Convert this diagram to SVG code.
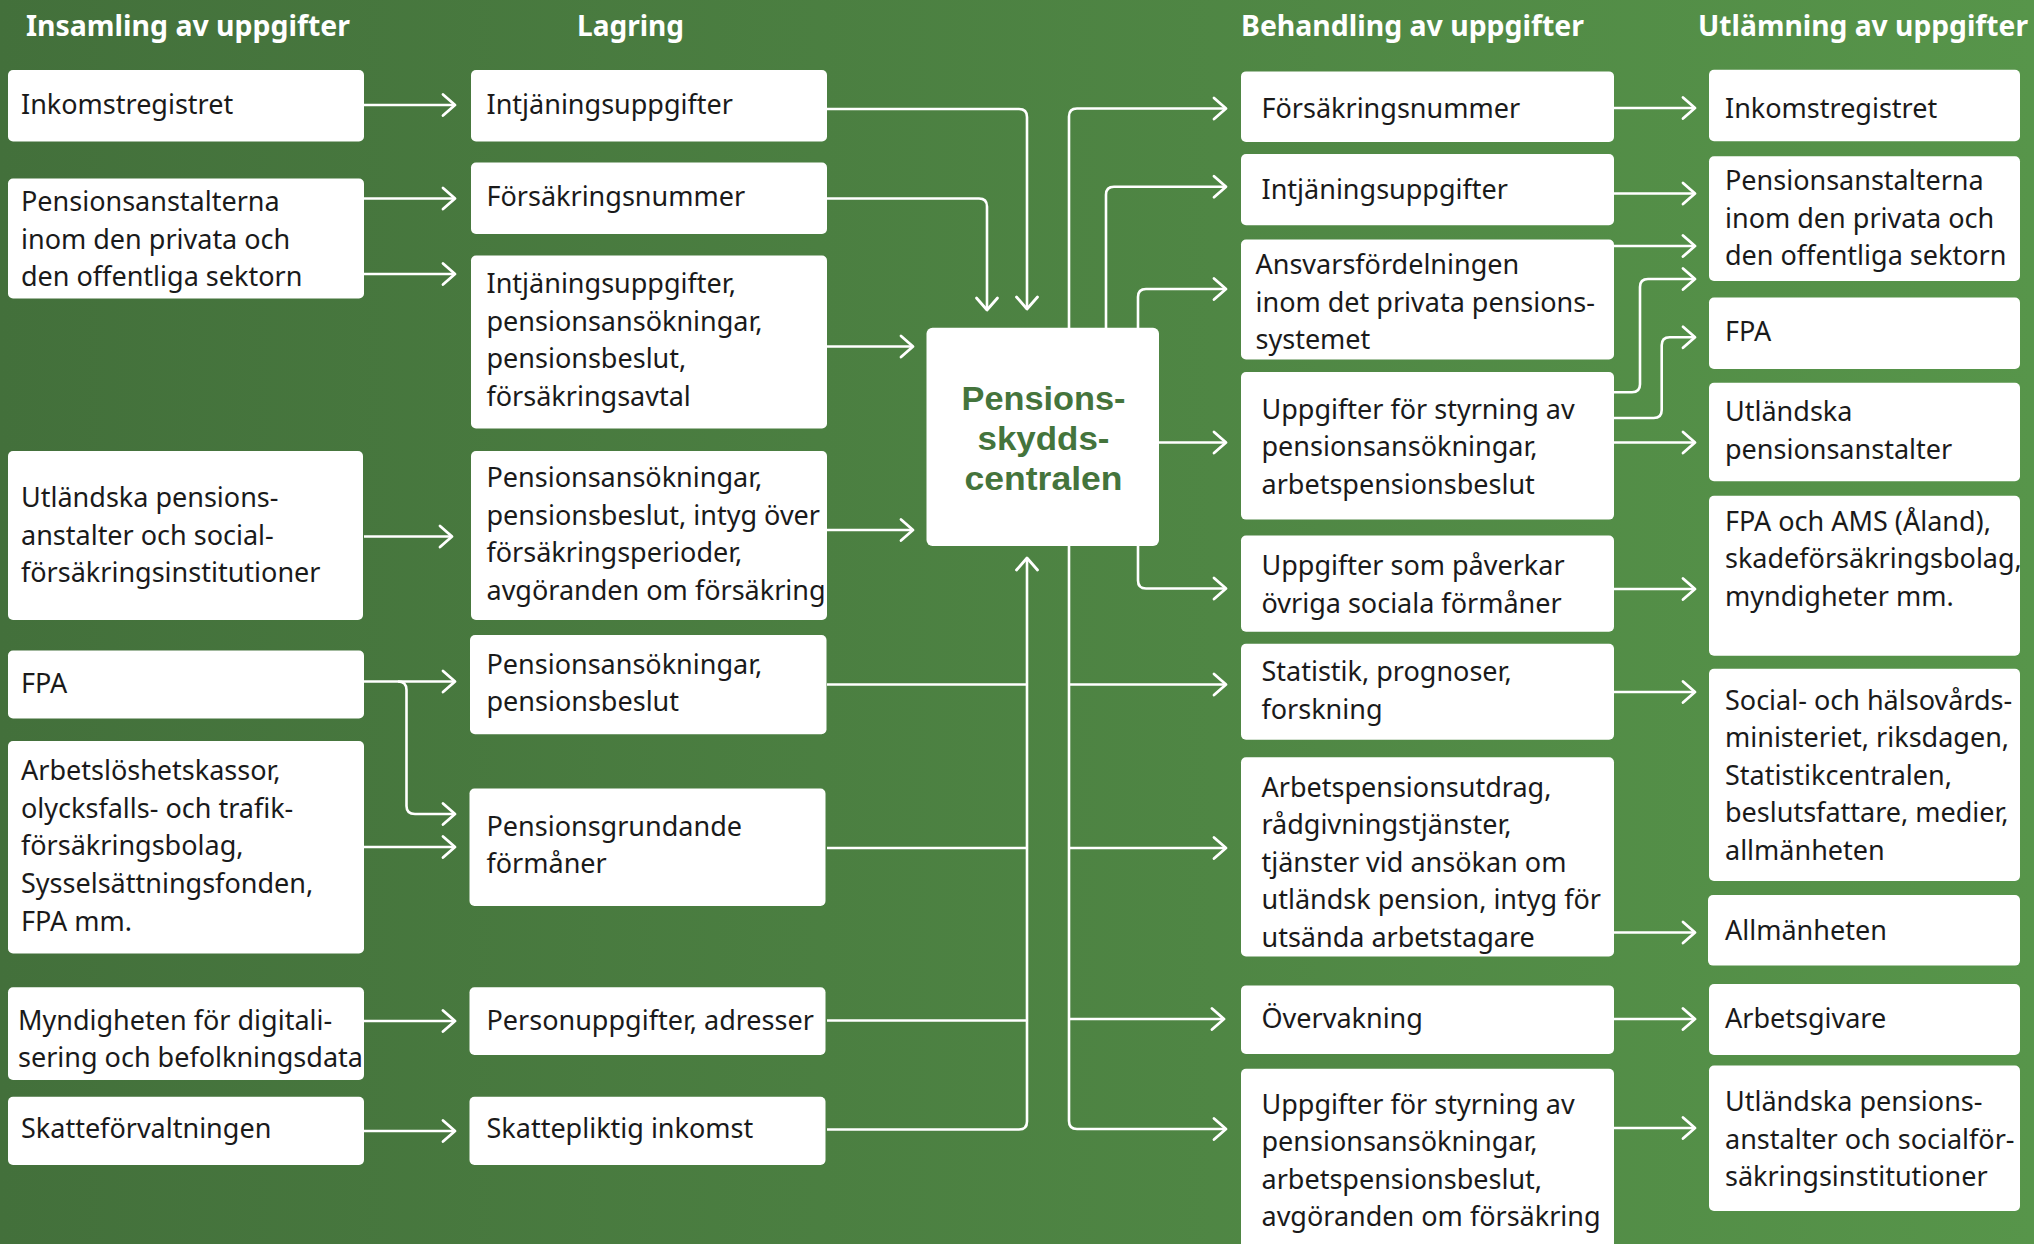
<svg xmlns="http://www.w3.org/2000/svg" width="2034" height="1244" viewBox="0 0 2034 1244">
<defs>
<linearGradient id="bg" x1="0" y1="0" x2="1" y2="0">
<stop offset="0" stop-color="#43703b"/>
<stop offset="1" stop-color="#57954a"/>
</linearGradient>
<marker id="arr" markerUnits="userSpaceOnUse" markerWidth="30" markerHeight="30" refX="0" refY="0" viewBox="-15 -15 30 30" orient="auto" overflow="visible">
<path d="M-12,-10.5 L0,0 L-12,10.5" fill="none" stroke="#ffffff" stroke-width="2.8" stroke-linecap="round" stroke-linejoin="round"/>
</marker>
<style>
.box{fill:#ffffff}
.t{font-family:"Noto Sans","Open Sans","DejaVu Sans",sans-serif;font-size:27px;fill:#1a1a1a}
.h{font-family:"Noto Sans","Open Sans","DejaVu Sans",sans-serif;font-size:28px;font-weight:bold;fill:#ffffff}
.c{font-family:"Liberation Sans",Arial,sans-serif;font-size:34px;font-weight:bold;fill:#44743c;text-anchor:middle}
.ln{fill:none;stroke:#ffffff;stroke-width:2.6}
.a{marker-end:url(#arr)}
</style>
</defs>
<rect x="0" y="0" width="2034" height="1244" fill="url(#bg)"/>

<g id="headings">
<text class="h" x="26" y="36" textLength="324" lengthAdjust="spacingAndGlyphs">Insamling av uppgifter</text>
<text class="h" x="577" y="36" textLength="107" lengthAdjust="spacingAndGlyphs">Lagring</text>
<text class="h" x="1241" y="36" textLength="343" lengthAdjust="spacingAndGlyphs">Behandling av uppgifter</text>
<text class="h" x="1698" y="36" textLength="330" lengthAdjust="spacingAndGlyphs">Utlämning av uppgifter</text>
</g>

<g id="connectors">
<!-- collection to storage -->
<path class="ln a" d="M364,105 H455"/>
<path class="ln a" d="M364,198.5 H455"/>
<path class="ln a" d="M364,274 H455"/>
<path class="ln a" d="M364,536.5 H452"/>
<path class="ln a" d="M364,681.5 H455"/>
<path class="ln a" d="M398,681.5 Q406.5,681.5 406.5,690 V806 Q406.5,814 415,814 H455"/>
<path class="ln a" d="M364,847 H455"/>
<path class="ln a" d="M364,1021 H455"/>
<path class="ln a" d="M364,1131 H455"/>
<!-- storage to centre -->
<path class="ln a" d="M827,109 H1019 Q1027,109 1027,117 V309"/>
<path class="ln a" d="M827,198.5 H979 Q987,198.5 987,206.5 V310"/>
<path class="ln a" d="M827,346.5 H913"/>
<path class="ln a" d="M827,530 H913"/>
<path class="ln" d="M827,684.5 H1027"/>
<path class="ln" d="M827,848 H1027"/>
<path class="ln" d="M827,1020.5 H1027"/>
<path class="ln a" d="M827,1129.5 H1019 Q1027,1129.5 1027,1121.5 V558"/>
<!-- centre to processing -->
<path class="ln a" d="M1069,330 V116.5 Q1069,108.5 1077,108.5 H1226"/>
<path class="ln a" d="M1069,544 V1121 Q1069,1129 1077,1129 H1226"/>
<path class="ln a" d="M1069,684.5 H1226"/>
<path class="ln a" d="M1069,848 H1226"/>
<path class="ln a" d="M1069,1019 H1224"/>
<path class="ln a" d="M1106,330 V194.7 Q1106,186.7 1114,186.7 H1226"/>
<path class="ln a" d="M1138,330 V297 Q1138,289 1146,289 H1226"/>
<path class="ln a" d="M1158,442.5 H1226"/>
<path class="ln a" d="M1138,544 V580.5 Q1138,588.5 1146,588.5 H1226"/>
<!-- processing to delivery -->
<path class="ln a" d="M1614,108 H1695"/>
<path class="ln a" d="M1614,193.5 H1695"/>
<path class="ln a" d="M1614,246 H1695"/>
<path class="ln a" d="M1614,392.3 H1632 Q1640,392.3 1640,384.3 V287 Q1640,279 1648,279 H1695"/>
<path class="ln a" d="M1614,418 H1653.7 Q1661.7,418 1661.7,410 V345.3 Q1661.7,337.3 1669.7,337.3 H1695"/>
<path class="ln a" d="M1614,442.5 H1695"/>
<path class="ln a" d="M1614,589 H1695"/>
<path class="ln a" d="M1614,692 H1695"/>
<path class="ln a" d="M1614,932.5 H1695"/>
<path class="ln a" d="M1614,1019 H1695"/>
<path class="ln a" d="M1614,1128 H1695"/>
</g>

<!-- Column 1 -->
<g id="c1-inkomstregistret"><rect class="box" x="8" y="70" width="356" height="71.5" rx="5"/>
<text class="t" x="21" y="114">Inkomstregistret</text></g>
<g id="c1-pensionsanstalterna"><rect class="box" x="8" y="178.5" width="356" height="120" rx="5"/>
<text class="t" x="21" y="211">Pensionsanstalterna</text>
<text class="t" x="21" y="248.5">inom den privata och</text>
<text class="t" x="21" y="286">den offentliga sektorn</text></g>
<g id="c1-utlandska"><rect class="box" x="8" y="451" width="355" height="169" rx="5"/>
<text class="t" x="21" y="507">Utländska pensions-</text>
<text class="t" x="21" y="544.5">anstalter och social-</text>
<text class="t" x="21" y="582">försäkringsinstitutioner</text></g>
<g id="c1-fpa"><rect class="box" x="8" y="650.5" width="356" height="68" rx="5"/>
<text class="t" x="21" y="692.5">FPA</text></g>
<g id="c1-arbetsloshetskassor"><rect class="box" x="8" y="741" width="356" height="212.5" rx="5"/>
<text class="t" x="21" y="780">Arbetslöshetskassor,</text>
<text class="t" x="21" y="817.7">olycksfalls- och trafik-</text>
<text class="t" x="21" y="855.4">försäkringsbolag,</text>
<text class="t" x="21" y="893">Sysselsättningsfonden,</text>
<text class="t" x="21" y="930.7">FPA mm.</text></g>
<g id="c1-myndigheten"><rect class="box" x="8" y="987.3" width="356" height="92.7" rx="5"/>
<text class="t" x="18" y="1029.5">Myndigheten för digitali-</text>
<text class="t" x="18" y="1066.5">sering och befolkningsdata</text></g>
<g id="c1-skatteforvaltningen"><rect class="box" x="8" y="1096.8" width="356" height="68.2" rx="5"/>
<text class="t" x="21" y="1138">Skatteförvaltningen</text></g>

<!-- Column 2 -->
<g id="c2-intjaning"><rect class="box" x="471" y="70" width="356" height="71.5" rx="5"/>
<text class="t" x="486.5" y="113.5">Intjäningsuppgifter</text></g>
<g id="c2-forsakringsnummer"><rect class="box" x="471" y="162.6" width="356" height="71.4" rx="5"/>
<text class="t" x="486.5" y="206">Försäkringsnummer</text></g>
<g id="c2-intjaning-ansokningar"><rect class="box" x="471" y="255.5" width="356" height="173" rx="5"/>
<text class="t" x="486.5" y="293">Intjäningsuppgifter,</text>
<text class="t" x="486.5" y="330.5">pensionsansökningar,</text>
<text class="t" x="486.5" y="368">pensionsbeslut,</text>
<text class="t" x="486.5" y="405.5">försäkringsavtal</text></g>
<g id="c2-ansokningar-intyg"><rect class="box" x="471" y="451" width="356" height="169" rx="5"/>
<text class="t" x="486.5" y="487">Pensionsansökningar,</text>
<text class="t" x="486.5" y="524.7">pensionsbeslut, intyg över</text>
<text class="t" x="486.5" y="562.4">försäkringsperioder,</text>
<text class="t" x="486.5" y="600">avgöranden om försäkring</text></g>
<g id="c2-ansokningar-beslut"><rect class="box" x="470" y="635" width="356.5" height="99.3" rx="5"/>
<text class="t" x="486.5" y="673.5">Pensionsansökningar,</text>
<text class="t" x="486.5" y="711">pensionsbeslut</text></g>
<g id="c2-pensionsgrundande"><rect class="box" x="469.5" y="788.6" width="356" height="117.4" rx="5"/>
<text class="t" x="486.5" y="835.5">Pensionsgrundande</text>
<text class="t" x="486.5" y="873">förmåner</text></g>
<g id="c2-personuppgifter"><rect class="box" x="469.5" y="987.3" width="356" height="67.7" rx="5"/>
<text class="t" x="486.5" y="1029.5">Personuppgifter, adresser</text></g>
<g id="c2-skattepliktig"><rect class="box" x="469.5" y="1096.8" width="356" height="68.2" rx="5"/>
<text class="t" x="486.5" y="1138">Skattepliktig inkomst</text></g>

<!-- Centre -->
<g id="pensionsskyddscentralen"><rect class="box" x="926.5" y="327.7" width="232.5" height="218.3" rx="6"/>
<text class="c" x="1043.5" y="410" textLength="164" lengthAdjust="spacingAndGlyphs">Pensions-</text>
<text class="c" x="1043.5" y="450" textLength="132" lengthAdjust="spacingAndGlyphs">skydds-</text>
<text class="c" x="1043.5" y="490" textLength="158" lengthAdjust="spacingAndGlyphs">centralen</text></g>

<!-- Column 3 -->
<g id="c3-forsakringsnummer"><rect class="box" x="1241" y="71.4" width="373" height="70.6" rx="5"/>
<text class="t" x="1261.5" y="118">Försäkringsnummer</text></g>
<g id="c3-intjaning"><rect class="box" x="1241" y="154" width="373" height="71.3" rx="5"/>
<text class="t" x="1261.5" y="198.5">Intjäningsuppgifter</text></g>
<g id="c3-ansvarsfordelningen"><rect class="box" x="1241" y="239.6" width="373" height="119.8" rx="5"/>
<text class="t" x="1255.5" y="274">Ansvarsfördelningen</text>
<text class="t" x="1255.5" y="311.5">inom det privata pensions-</text>
<text class="t" x="1255.5" y="349">systemet</text></g>
<g id="c3-styrning"><rect class="box" x="1241" y="372" width="373" height="147.6" rx="5"/>
<text class="t" x="1261.5" y="418.5">Uppgifter för styrning av</text>
<text class="t" x="1261.5" y="456">pensionsansökningar,</text>
<text class="t" x="1261.5" y="493.5">arbetspensionsbeslut</text></g>
<g id="c3-sociala"><rect class="box" x="1241" y="535.5" width="373" height="96.2" rx="5"/>
<text class="t" x="1261.5" y="575">Uppgifter som påverkar</text>
<text class="t" x="1261.5" y="612.7">övriga sociala förmåner</text></g>
<g id="c3-statistik"><rect class="box" x="1241" y="643.8" width="373" height="96" rx="5"/>
<text class="t" x="1261.5" y="681">Statistik, prognoser,</text>
<text class="t" x="1261.5" y="718.5">forskning</text></g>
<g id="c3-arbetspensionsutdrag"><rect class="box" x="1241" y="757.3" width="373" height="199.1" rx="5"/>
<text class="t" x="1261.5" y="796.5">Arbetspensionsutdrag,</text>
<text class="t" x="1261.5" y="834">rådgivningstjänster,</text>
<text class="t" x="1261.5" y="871.5">tjänster vid ansökan om</text>
<text class="t" x="1261.5" y="909">utländsk pension, intyg för</text>
<text class="t" x="1261.5" y="946.5">utsända arbetstagare</text></g>
<g id="c3-overvakning"><rect class="box" x="1241" y="985.4" width="373" height="68.6" rx="5"/>
<text class="t" x="1261.5" y="1027.5">Övervakning</text></g>
<g id="c3-styrning-forsakring"><rect class="box" x="1241" y="1068.7" width="373" height="190" rx="5"/>
<text class="t" x="1261.5" y="1113.5">Uppgifter för styrning av</text>
<text class="t" x="1261.5" y="1151">pensionsansökningar,</text>
<text class="t" x="1261.5" y="1188.5">arbetspensionsbeslut,</text>
<text class="t" x="1261.5" y="1226">avgöranden om försäkring</text></g>

<!-- Column 4 -->
<g id="c4-inkomstregistret"><rect class="box" x="1709" y="69.8" width="311" height="71.4" rx="5"/>
<text class="t" x="1725" y="118">Inkomstregistret</text></g>
<g id="c4-pensionsanstalterna"><rect class="box" x="1709" y="156.3" width="311" height="124.6" rx="5"/>
<text class="t" x="1725" y="190">Pensionsanstalterna</text>
<text class="t" x="1725" y="227.5">inom den privata och</text>
<text class="t" x="1725" y="265">den offentliga sektorn</text></g>
<g id="c4-fpa"><rect class="box" x="1709" y="297.5" width="311" height="71.5" rx="5"/>
<text class="t" x="1725" y="341">FPA</text></g>
<g id="c4-utlandska"><rect class="box" x="1709" y="382.8" width="311" height="98.4" rx="5"/>
<text class="t" x="1725" y="421">Utländska</text>
<text class="t" x="1725" y="458.5">pensionsanstalter</text></g>
<g id="c4-fpa-ams"><rect class="box" x="1709" y="495.8" width="311" height="159.9" rx="5"/>
<text class="t" x="1725" y="530.5">FPA och AMS (Åland),</text>
<text class="t" x="1725" y="568">skadeförsäkringsbolag,</text>
<text class="t" x="1725" y="605.5">myndigheter mm.</text></g>
<g id="c4-social"><rect class="box" x="1709" y="668.8" width="311" height="212.2" rx="5"/>
<text class="t" x="1725" y="709.5">Social- och hälsovårds-</text>
<text class="t" x="1725" y="747">ministeriet, riksdagen,</text>
<text class="t" x="1725" y="784.5">Statistikcentralen,</text>
<text class="t" x="1725" y="822">beslutsfattare, medier,</text>
<text class="t" x="1725" y="859.5">allmänheten</text></g>
<g id="c4-allmanheten"><rect class="box" x="1708" y="895" width="312" height="70.6" rx="5"/>
<text class="t" x="1725" y="939.5">Allmänheten</text></g>
<g id="c4-arbetsgivare"><rect class="box" x="1709" y="984" width="311" height="71" rx="5"/>
<text class="t" x="1725" y="1027.5">Arbetsgivare</text></g>
<g id="c4-utlandska-social"><rect class="box" x="1709" y="1065.5" width="311" height="145.5" rx="5"/>
<text class="t" x="1725" y="1111">Utländska pensions-</text>
<text class="t" x="1725" y="1148.5">anstalter och socialför-</text>
<text class="t" x="1725" y="1186">säkringsinstitutioner</text></g>
</svg>
